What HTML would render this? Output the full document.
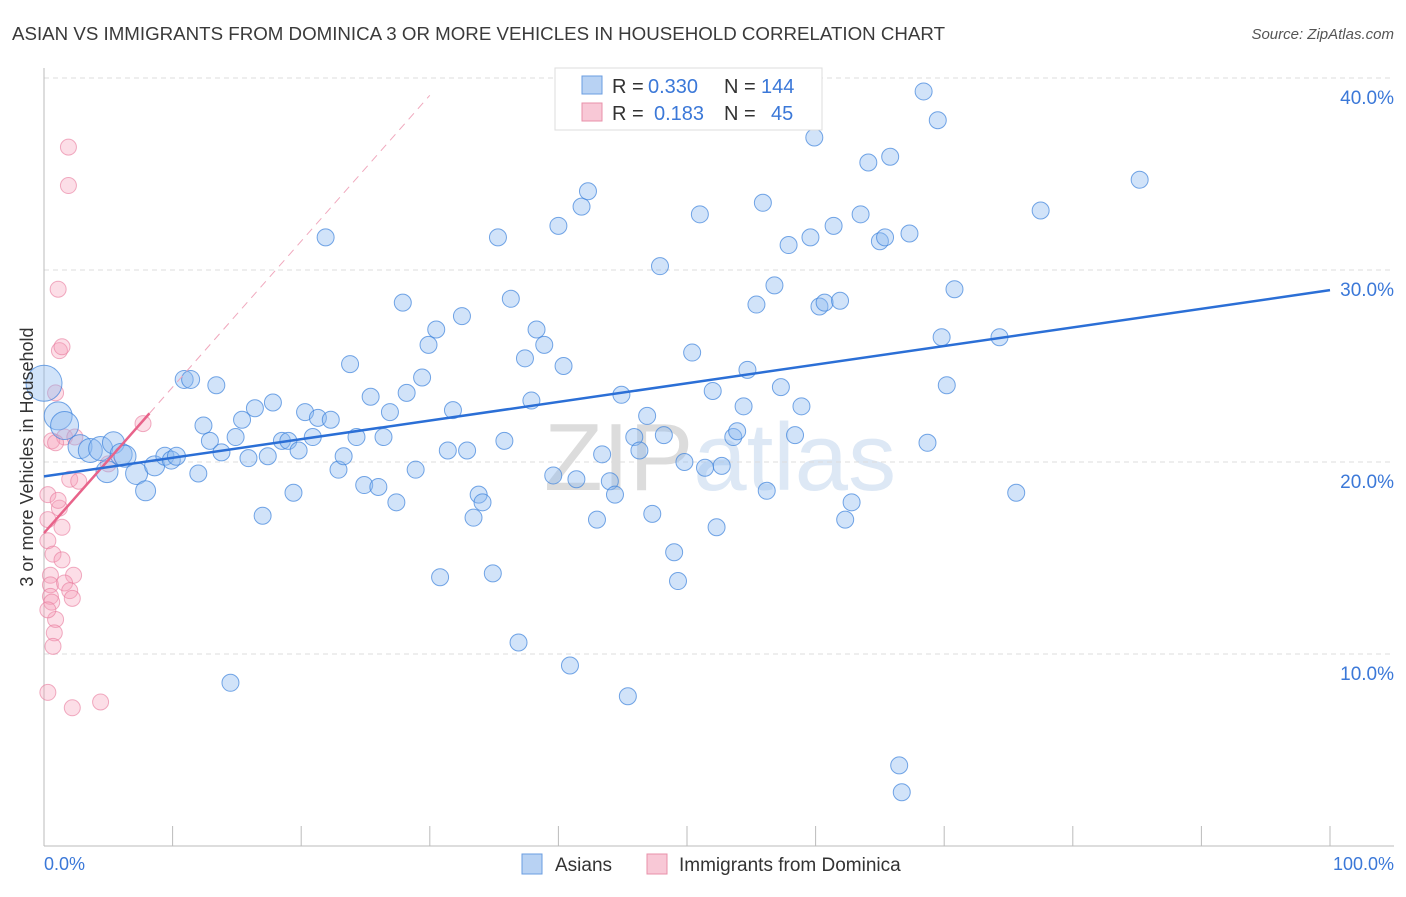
<!DOCTYPE html>
<html><head><meta charset="utf-8">
<style>
body{margin:0;background:#fff;font-family:"Liberation Sans",sans-serif;}
svg text{font-family:"Liberation Sans",sans-serif;}
</style></head>
<body>
<svg id="chart" width="1406" height="892" viewBox="0 0 1406 892">
<text x="12" y="40" font-size="18" fill="#3a3a3a" textLength="933" lengthAdjust="spacingAndGlyphs">ASIAN VS IMMIGRANTS FROM DOMINICA 3 OR MORE VEHICLES IN HOUSEHOLD CORRELATION CHART</text>
<text x="1394" y="39" font-size="15" fill="#555" text-anchor="end" font-style="italic">Source: ZipAtlas.com</text>
<text x="720" y="490" font-size="96" fill="#e6e6e6" text-anchor="middle" font-family="Liberation Serif"><tspan fill="#dcdcdc">ZIP</tspan><tspan fill="#dde8f5" font-family="Liberation Sans">atlas</tspan></text>
<g id="grid"></g>
<g id="axes"></g>
<g id="pink"></g>
<g id="blue"></g>
<g id="trends"></g>
<text x="33" y="457" font-size="18" fill="#333" text-anchor="middle" transform="rotate(-90 33 457)">3 or more Vehicles in Household</text>
<text x="44" y="870" font-size="18" fill="#3b78d8">0.0%</text>
<text x="1394" y="870" font-size="18" fill="#3b78d8" text-anchor="end">100.0%</text>
<g>
<rect x="555" y="68" width="267" height="62" fill="#fff" stroke="#ddd"/>
<rect x="582" y="76" width="20" height="18" fill="#b8d2f3" stroke="#6a9de0"/>
<text x="612" y="93" font-size="20" fill="#333">R = </text><text x="648" y="93" font-size="20" fill="#3b78d8">0.330</text>
<text x="724" y="93" font-size="20" fill="#333">N = </text><text x="761" y="93" font-size="20" fill="#3b78d8">144</text>
<rect x="582" y="103" width="20" height="18" fill="#f8c8d6" stroke="#e890aa"/>
<text x="612" y="120" font-size="20" fill="#333">R = </text><text x="654" y="120" font-size="20" fill="#3b78d8">0.183</text>
<text x="724" y="120" font-size="20" fill="#333">N = </text><text x="771" y="120" font-size="20" fill="#3b78d8">45</text>
</g>
<g>
<rect x="522" y="854" width="20" height="20" fill="#b8d2f3" stroke="#6a9de0"/>
<text x="555" y="871" font-size="19" fill="#333">Asians</text>
<rect x="647" y="854" width="20" height="20" fill="#f8c8d6" stroke="#e890aa"/>
<text x="679" y="871" font-size="19" fill="#333">Immigrants from Dominica</text>
</g>
</svg>
<script>
const yTicks=[10,20,30,40];
const yTickLabels=["10.0%","20.0%","30.0%","40.0%"];
const xTicks=[0,10,20,30,40,50,60,70,80,90,100];
const blueX=[0,1.1,1.6,2.8,3.6,4.4,5.4,6.0,4.9,6.3,7.2,7.9,8.6,9.4,9.9,10.3,10.9,11.4,12.0,12.4,12.9,13.4,13.8,14.5,14.9,15.4,15.9,16.4,17.0,17.4,17.8,18.5,19.0,19.4,19.8,20.3,20.9,21.3,21.9,22.3,22.9,23.3,23.8,24.3,24.9,25.4,26.0,26.4,26.9,27.4,27.9,28.2,28.9,29.4,29.9,30.5,30.8,31.4,31.8,32.5,32.9,33.4,33.8,34.1,34.9,35.3,35.8,36.3,36.9,37.4,37.9,38.3,38.9,39.6,40.0,40.4,40.9,41.4,41.8,42.3,43.0,43.4,44.0,44.4,44.9,45.4,45.9,46.3,46.9,47.3,47.9,48.2,49.0,49.3,49.8,50.4,51.0,51.4,52.0,52.3,52.7,53.6,53.9,54.4,54.7,55.4,55.9,56.2,56.8,57.3,57.9,58.4,58.9,59.6,59.9,60.3,60.7,61.4,61.9,62.3,62.8,63.5,64.1,65.0,65.4,65.8,66.5,66.7,67.3,68.4,68.7,69.5,69.8,70.2,70.8,74.3,75.6,77.5,85.2];
const blueY=[24.1,22.4,21.9,20.8,20.6,20.7,21.0,20.4,19.5,20.3,19.4,18.5,19.8,20.3,20.1,20.3,24.3,24.3,19.4,21.9,21.1,24.0,20.5,8.5,21.3,22.2,20.2,22.8,17.2,20.3,23.1,21.1,21.1,18.4,20.6,22.6,21.3,22.3,31.7,22.2,19.6,20.3,25.1,21.3,18.8,23.4,18.7,21.3,22.6,17.9,28.3,23.6,19.6,24.4,26.1,26.9,14.0,20.6,22.7,27.6,20.6,17.1,18.3,17.9,14.2,31.7,21.1,28.5,10.6,25.4,23.2,26.9,26.1,19.3,32.3,25.0,9.4,19.1,33.3,34.1,17.0,20.4,19.0,18.3,23.5,7.8,21.3,20.6,22.4,17.3,30.2,21.4,15.3,13.8,20.0,25.7,32.9,19.7,23.7,16.6,19.8,21.3,21.6,22.9,24.8,28.2,33.5,18.5,29.2,23.9,31.3,21.4,22.9,31.7,36.9,28.1,28.3,32.3,28.4,17.0,17.9,32.9,35.6,31.5,31.7,35.9,4.2,2.8,31.9,39.3,21.0,37.8,26.5,24.0,29.0,26.5,18.4,33.1,34.7];
const blueSize=[18,14,14,12,12,12,11,11,11,11,11,10,10,9,9,9,9,9];
const pinkX=[1.9,1.9,1.1,1.2,0.9,0.6,1.6,2.0,2.7,0.3,1.2,0.3,0.7,1.4,0.5,2.3,0.5,1.6,2.0,0.5,2.2,0.6,0.9,0.8,0.7,0.3,2.2,4.4,7.7,0.9,5.0,1.4,0.3,1.1,2.4,1.4,0.3];
const pinkY=[36.4,34.4,29.0,25.8,23.6,21.1,21.3,19.1,19.0,18.3,17.6,15.9,15.2,16.6,14.1,14.1,13.6,13.7,13.3,13.0,12.9,12.7,11.8,11.1,10.4,8.0,7.2,7.5,22.0,21.0,19.9,26.0,17.0,18.0,21.3,14.9,12.3];
const blueTrend=[19.25,0.097];
const pinkTrend=[16.3,0.76];
const NS="http://www.w3.org/2000/svg";
const X=v=>44+v*12.86, Y=v=>846-v*19.2;
function mk(tag,at,parent){const e=document.createElementNS(NS,tag);for(const k in at)e.setAttribute(k,at[k]);document.getElementById(parent).appendChild(e);return e;}
yTicks.forEach((t,i)=>{
 const l=mk('line',{x1:44,x2:1394,y1:Y(t),y2:Y(t),stroke:'#ddd','stroke-dasharray':'5,4'},'grid');
 
 
 const tx=mk('text',{x:1394,y:Y(t)+26,'font-size':19,fill:'#3b78d8','text-anchor':'end'},'grid');
 tx.textContent=yTickLabels[i];
 
 
});
mk('line',{x1:44,x2:44,y1:68,y2:846,stroke:'#bbb'},'axes');
mk('line',{x1:44,x2:1394,y1:846,y2:846,stroke:'#bbb'},'axes');
xTicks.forEach(t=>{
 const l=mk('line',{x1:X(t),x2:X(t),y1:826,y2:846,stroke:'#bbb'},'axes');
 
 
});
pinkX.forEach((x,i)=>{
 const c=mk('circle',{cx:X(x),cy:Y(pinkY[i]),r:8,fill:'rgba(245,160,185,0.35)',stroke:'rgba(232,120,155,0.6)','stroke-width':1},'pink');
 
 
});
blueX.forEach((x,i)=>{
 const c=mk('circle',{cx:X(x),cy:Y(blueY[i]),r:blueSize[i]||8.5,fill:'rgba(140,185,240,0.4)',stroke:'rgba(60,130,220,0.7)','stroke-width':1},'blue');
 
 
});
const d=mk('line',{x1:X(8.2),y1:Y(pinkTrend[0]+pinkTrend[1]*8.2),x2:X(30),y2:Y(pinkTrend[0]+pinkTrend[1]*30),stroke:'#f0a8bd','stroke-dasharray':'8,6','stroke-width':1},'trends');


const p=mk('line',{x1:X(0),y1:Y(pinkTrend[0]),x2:X(8.2),y2:Y(pinkTrend[0]+pinkTrend[1]*8.2),stroke:'#e8638a','stroke-width':2.5},'trends');


const b=mk('line',{x1:X(0),y1:Y(blueTrend[0]),x2:X(100),y2:Y(blueTrend[0]+blueTrend[1]*100),stroke:'#2b6fd6','stroke-width':2.5},'trends');


</script>
</body></html>
